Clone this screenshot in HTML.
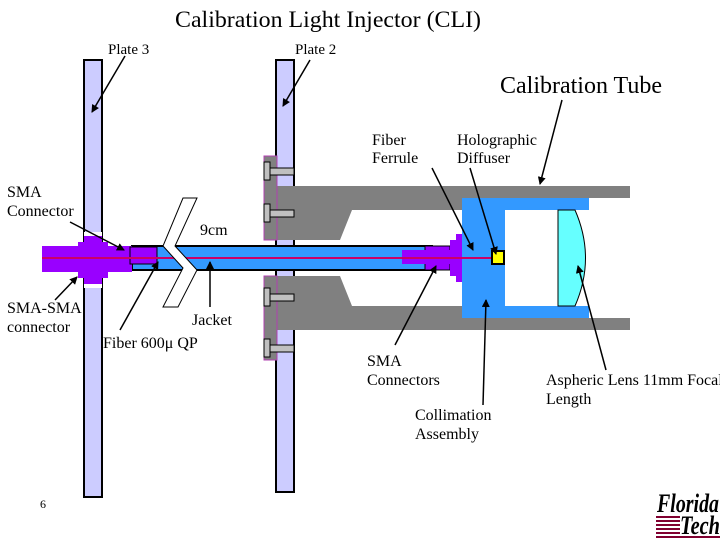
<!DOCTYPE html>
<html><head><style>
html,body{margin:0;padding:0;background:#fff;}
svg{display:block;}
text{font-family:"Liberation Serif",serif;fill:#000;}
</style></head><body>
<svg width="720" height="540" viewBox="0 0 720 540" xmlns="http://www.w3.org/2000/svg">
<defs><marker id="a" markerWidth="8" markerHeight="8" refX="7" refY="4" orient="auto" markerUnits="userSpaceOnUse"><path d="M0,0 L8,4 L0,8 z" fill="#000"/></marker></defs>
<text x="328" y="27" font-size="23" text-anchor="middle" textLength="306" lengthAdjust="spacingAndGlyphs">Calibration Light Injector (CLI)</text>
<text x="108" y="54" font-size="15">Plate 3</text>
<text x="295" y="54" font-size="15">Plate 2</text>
<text x="500" y="93" font-size="24" textLength="162" lengthAdjust="spacingAndGlyphs">Calibration Tube</text>
<!-- plates -->
<rect x="84" y="60" width="18" height="437" fill="#ccccff" stroke="#000" stroke-width="2"/>
<rect x="276" y="60" width="18" height="432" fill="#ccccff" stroke="#000" stroke-width="2"/>
<!-- gray tube -->
<rect x="277" y="186" width="353" height="12" fill="#808080"/>
<polygon points="277,198 463,198 463,210 352,210 340,240 277,240" fill="#808080"/>
<rect x="277" y="318" width="353" height="12" fill="#808080"/>
<polygon points="277,276 340,276 352,306 463,306 463,318 277,318" fill="#808080"/>
<!-- pads and bolts -->
<rect x="264" y="156" width="13" height="84" fill="#808080" stroke="#b040b0" stroke-width="1"/>
<rect x="264" y="276" width="13" height="84" fill="#808080" stroke="#b040b0" stroke-width="1"/>
<g fill="#c0c0c0" stroke="#000" stroke-width="1">
<rect x="270" y="168" width="24" height="7"/><rect x="264" y="162" width="6" height="18"/>
<rect x="270" y="210" width="24" height="7"/><rect x="264" y="204" width="6" height="18"/>
<rect x="270" y="294" width="24" height="7"/><rect x="264" y="288" width="6" height="18"/>
<rect x="270" y="345" width="24" height="7"/><rect x="264" y="339" width="6" height="18"/>
</g>
<!-- collimator -->
<rect x="462" y="198" width="127" height="120" fill="#3399ff"/>
<rect x="505" y="210" width="84" height="96" fill="#fff"/>
<path d="M558,210 L575,210 Q596,258 575,306 L558,306 Z" fill="#66ffff" stroke="#000" stroke-width="1"/>
<!-- fiber tube -->
<rect x="132" y="246" width="300" height="24" fill="#3399ff" stroke="#000" stroke-width="2"/>
<!-- right SMA -->
<rect x="425" y="246" width="25" height="24" fill="#9900ff" stroke="#000" stroke-width="1"/>
<rect x="402" y="250" width="60" height="14" fill="#9900ff"/>
<polygon points="450,240 456,240 456,234 462,234 462,282 456,282 456,276 450,276" fill="#9900ff"/>
<!-- left SMA -->
<rect x="84" y="232" width="18" height="56" fill="#fff"/>
<rect x="42" y="246" width="90" height="26" fill="#9900ff"/>
<polygon points="78,242 84,242 84,236 102,236 102,242 108,242 108,278 102,278 102,284 84,284 84,278 78,278" fill="#9900ff"/>
<rect x="130" y="247" width="27" height="17" fill="#9900ff" stroke="#000" stroke-width="1"/>
<!-- fiber line -->
<line x1="42" y1="258" x2="492" y2="258" stroke="#cc0066" stroke-width="2"/>
<rect x="492" y="251" width="12" height="13" fill="#ffff00" stroke="#000" stroke-width="2"/>
<!-- break chevron -->
<polygon points="183,198 197,198 175,246 197,270 178,307 163,307 183,268 163,246" fill="#fff" stroke="#000" stroke-width="1"/>
<!-- labels -->
<g font-size="16">
<text x="372" y="145">Fiber</text><text x="372" y="163">Ferrule</text>
<text x="457" y="145">Holographic</text><text x="457" y="163">Diffuser</text>
<text x="7" y="197">SMA</text><text x="7" y="216">Connector</text>
<text x="200" y="235">9cm</text>
<text x="7" y="313">SMA-SMA</text><text x="7" y="332">connector</text>
<text x="192" y="325">Jacket</text>
<text x="103" y="348">Fiber 600μ QP</text>
<text x="367" y="366">SMA</text><text x="367" y="385">Connectors</text>
<text x="415" y="420">Collimation</text><text x="415" y="439">Assembly</text>
<text x="546" y="385">Aspheric Lens 11mm Focal</text><text x="546" y="404">Length</text>
<text x="40" y="508" font-size="12">6</text>
</g>
<!-- arrows -->
<g stroke="#000" stroke-width="1.5" marker-end="url(#a)">
<line x1="125" y1="56" x2="92" y2="112"/>
<line x1="310" y1="60" x2="283" y2="106"/>
<line x1="562" y1="100" x2="540" y2="184"/>
<line x1="432" y1="168" x2="473" y2="250"/>
<line x1="470" y1="168" x2="496" y2="254"/>
<line x1="70" y1="222" x2="124" y2="250"/>
<line x1="55" y1="300" x2="77" y2="277"/>
<line x1="210" y1="307" x2="210" y2="262"/>
<line x1="120" y1="330" x2="158" y2="262"/>
<line x1="395" y1="345" x2="436" y2="266"/>
<line x1="483" y1="405" x2="486" y2="300"/>
<line x1="606" y1="370" x2="578" y2="266"/>
</g>
<!-- logo -->
<text x="657" y="512" font-size="26" font-style="italic" font-weight="bold" textLength="62" lengthAdjust="spacingAndGlyphs">Florida</text>
<g fill="#800030"><rect x="656" y="516" width="24" height="2"/><rect x="656" y="520" width="24" height="2"/><rect x="656" y="524" width="24" height="2"/><rect x="656" y="528" width="24" height="2"/><rect x="656" y="532" width="24" height="2"/><rect x="656" y="536" width="64" height="2"/></g>
<text x="680" y="534" font-size="26" font-style="italic" font-weight="bold" textLength="40" lengthAdjust="spacingAndGlyphs">Tech</text>
</svg>
</body></html>
